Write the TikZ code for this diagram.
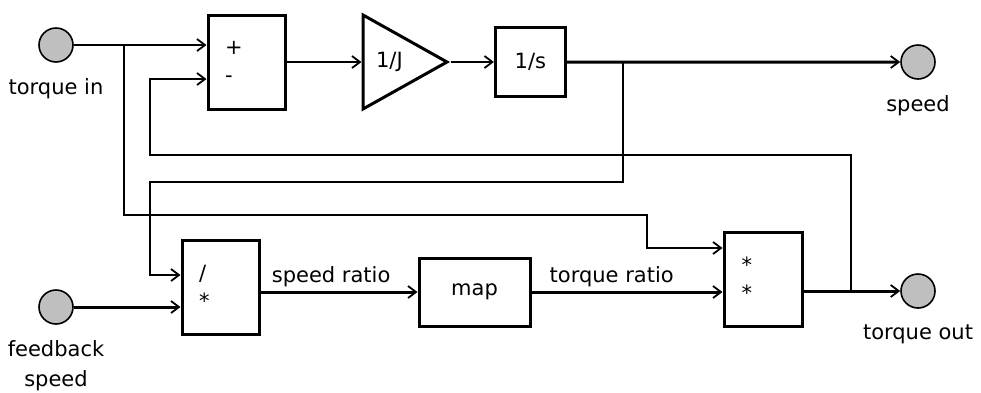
\documentclass[tikz,border=0pt]{standalone}
\usepackage{fontspec}
\setmainfont{DejaVu Sans}
\usetikzlibrary{arrows.meta,calc,positioning,shapes.geometric}

\begin{document}
\begin{tikzpicture}[x=1pt,y=-1pt,
  font=\fontsize{21}{25}\selectfont,
  port/.style={circle,draw,fill=black!25,line width=1.6pt,minimum size=34pt,
    inner sep=0pt},
  block/.style={draw,line width=3pt,minimum width=77pt,minimum height=94pt,
    inner sep=0pt},
  opbox/.style={block,text width=43pt,align=left},
  gainbox/.style={draw,line width=3pt,isosceles triangle,
    isosceles triangle stretches,minimum width=94pt,minimum height=84pt,
    inner sep=0pt},
  sig/.style={-{Straight Barb[length=8pt,width=12pt,line width=1.8pt]},
    line width=1.3pt},
  bus/.style={sig,line width=3pt},
  lbl/.style={label distance=12pt}]
\useasboundingbox (0,0) rectangle (981,392);
\node[port,label={[lbl]below:torque in}] (tin) at (56,45) {};
\node[opbox] (sum) at (246.5,62) {+\\[3pt]-};
\node[gainbox,right=75pt of sum] (gain) {1/J};
\node[block,minimum width=70pt,minimum height=69pt,right=43pt of gain] (int) {1/s};
\node[port,label={[lbl]below:speed}] (spd) at (918,62) {};
\node[port,label={[lbl,align=center]below:feedback\\[5pt]speed}] (fbs) at (56,307) {};
\node[opbox] (div) at (220.5,287) {/\\[3pt]*};
\node[block,minimum width=111pt,minimum height=68pt] (map) at (474.5,292) {map};
\node[opbox,minimum width=78pt] (mult) at (763,279) {*\\[3pt]*};
\node[port,label={[lbl]below:torque out}] (tout) at (918,291) {};
% branch points and bends
\coordinate (tinsplit) at (124,45);
\coordinate (tinbend) at (647,215);
\coordinate (spdsplit) at (623,62);
\coordinate (spdbend) at (150,182);
\coordinate (toutsplit) at (851,291);
\coordinate (toutbend) at (150,155);
% top row
\draw[sig] (tin) -- (tin -| sum.west);
\draw[sig] (sum.east) -- (gain.west);
\draw[sig] (gain.east) -- (int.west);
\draw[bus] (int) -- (spd);
% feedback paths
\draw[sig] (tinsplit) |- (tinbend) |- ([yshift=31pt]mult.west);
\draw[sig] (spdsplit) |- (spdbend) |- ([yshift=12pt]div.west);
\draw[sig] (toutsplit) |- (toutbend) |- ([yshift=-17pt]sum.west);
% bottom row
\draw[bus] (fbs) -- (fbs -| div.west);
\draw[bus] (div.east |- map) -- node[above,pos=.45]{speed ratio} (map.west);
\draw[bus] (map.east) -- node[above,pos=.42]{torque ratio} (map -| mult.west);
\draw[bus] (mult.east |- tout) -- (tout);
\end{tikzpicture}
\end{document}
